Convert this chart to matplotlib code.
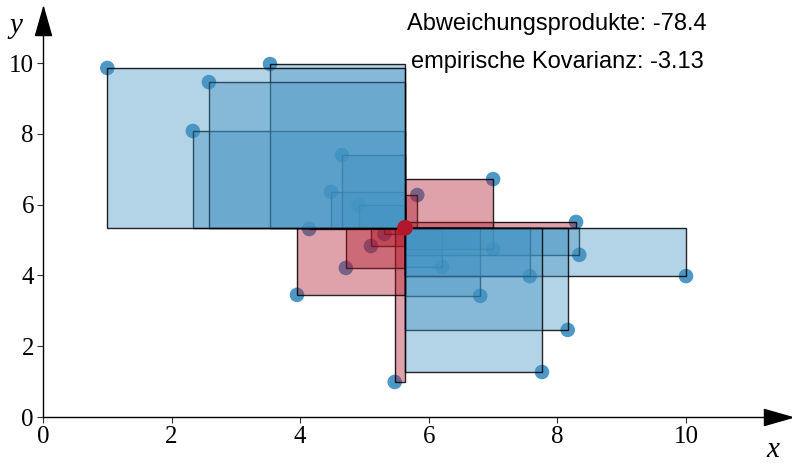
import matplotlib
matplotlib.use("Agg")
import matplotlib.pyplot as plt
from matplotlib.patches import Rectangle
import numpy as np

# Sample observations
x_vals = [1.00, 3.53, 2.58, 2.33, 4.65, 4.48, 4.91, 4.14, 3.95, 4.71, 5.10, 5.31,
          5.82, 7.00, 8.29, 8.34, 10.00, 7.57, 6.80, 8.16, 7.76, 5.47, 6.21, 7.00]
y_vals = [9.86, 9.97, 9.46, 8.08, 7.40, 6.36, 5.99, 5.31, 3.45, 4.21, 4.83, 5.17,
          6.27, 6.72, 5.51, 4.58, 3.98, 3.98, 3.42, 2.46, 1.27, 0.99, 4.24, 4.74]

tick_vals = [0, 2, 4, 6, 8, 10]
line1 = "Abweichungsprodukte: -78.4"
line2 = "empirische Kovarianz: -3.13"

BLUE = "#4393c3"
RED = "#b2182b"

x = np.array(x_vals)
y = np.array(y_vals)
mx, my = x.mean(), y.mean()

fig = plt.figure(figsize=(7.92, 4.63), dpi=100)
W, H = 792, 463
x0_px, y0_px = 43, 417
px_per_x, px_per_y = 64.3, 35.4
right_px, top_px = 792, 7
ax = fig.add_axes([x0_px / W, (H - y0_px) / H, (right_px - x0_px) / W, (y0_px - top_px) / H])
ax.set_xlim(0, (right_px - x0_px) / px_per_x)
ax.set_ylim(0, (y0_px - top_px) / px_per_y)

# points below, rectangles of deviation products above (smallest first)
ax.scatter(x, y, s=110, color=BLUE, edgecolors="none", zorder=1, alpha=0.95)
order = np.argsort(np.abs((x - mx) * (y - my)))
for i in order:
    xi, yi = x[i], y[i]
    dx, dy = xi - mx, yi - my
    col = RED if dx * dy > 0 else BLUE
    ax.add_patch(Rectangle((min(xi, mx), min(yi, my)), abs(dx), abs(dy),
                           facecolor=col, alpha=0.4, edgecolor="none", zorder=2))
    ax.add_patch(Rectangle((min(xi, mx), min(yi, my)), abs(dx), abs(dy),
                           facecolor="none", edgecolor="black", lw=1.0, alpha=0.85, zorder=2))
ax.scatter([mx], [my], s=130, color=RED, edgecolors="none", zorder=5)

for s in ["top", "right"]:
    ax.spines[s].set_visible(False)
for s in ["left", "bottom"]:
    ax.spines[s].set_linewidth(1.0)
    ax.spines[s].set_color("black")

serif = ["Liberation Serif", "DejaVu Serif"]
ax.set_xticks(tick_vals)
ax.set_yticks(tick_vals)
ax.set_xticklabels([str(t) for t in tick_vals], family=serif, fontsize=18)
ax.set_yticklabels([str(t) for t in tick_vals], family=serif, fontsize=18)
ax.tick_params(direction="out", length=4.5, width=0.8, color="#333333", pad=2)

# axis arrows
xarrow = [(-1, -0.57), (1, 0), (-1, 0.57), (-1, -0.57)]
yarrow = [(-0.57, -1), (0, 1), (0.57, -1), (-0.57, -1)]
ax.plot([(right_px - 14 - x0_px) / px_per_x], [0], marker=xarrow, markersize=20.2,
        color="black", clip_on=False, zorder=6, linestyle="none")
ax.plot([0], [(y0_px - top_px - 14) / px_per_y], marker=yarrow, markersize=20.2,
        color="black", clip_on=False, zorder=6, linestyle="none")

fig.text(773 / W, 1 - 450 / H, "x", family=serif, style="italic", fontsize=21,
         ha="center", va="center")
fig.text(16 / W, 1 - 26 / H, "y", family=serif, style="italic", fontsize=21,
         ha="center", va="center")

sans = ["Liberation Sans", "DejaVu Sans"]
fig.text(557 / W, 1 - 24 / H, line1, family=sans, fontsize=17, ha="center", va="center")
fig.text(557 / W, 1 - 62 / H, line2, family=sans, fontsize=17, ha="center", va="center")

fig.savefig("out.png", dpi=100)
